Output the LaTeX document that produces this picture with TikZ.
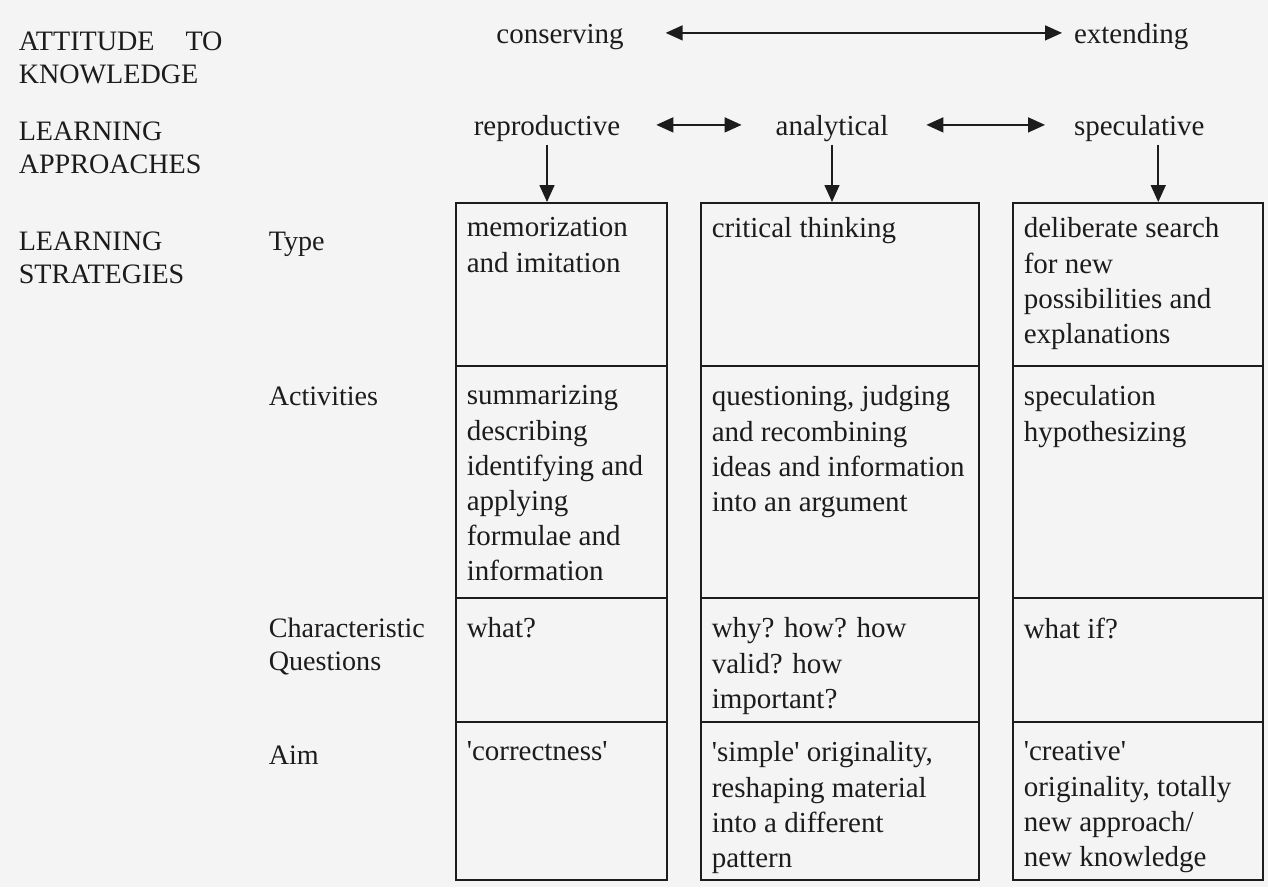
\documentclass[tikz,border=0pt]{standalone}
\usepackage{fontspec}
\setmainfont{Liberation Serif}
\usetikzlibrary{arrows.meta}
\definecolor{paper}{RGB}{244,244,244}
\definecolor{ink}{RGB}{28,28,28}

\begin{document}
\begin{tikzpicture}[x=0.02cm,y=-0.02cm,line width=0.9pt,draw=ink,text=ink]
\tikzstyle{cell}=[draw,rectangle,anchor=north west,inner sep=0pt]
\tikzstyle{celltext}=[anchor=north west,align=left,inner xsep=0.22cm,inner ysep=0.4cm,font=\fontsize{16.5}{20}\selectfont]
\tikzstyle{heading}=[anchor=north west,align=left,inner sep=0pt,font=\fontsize{16}{19}\selectfont]
\tikzstyle{approach}=[inner sep=3pt,text height=13.5pt,text depth=2pt,font=\fontsize{16.5}{20}\selectfont]
\tikzstyle{twoway}=[{Triangle[length=0.34cm,width=0.3cm]}-{Triangle[length=0.34cm,width=0.3cm]}]
\tikzstyle{downarrow}=[-{Triangle[length=0.34cm,width=0.3cm]}]
\useasboundingbox[fill=paper] (0,0) rectangle (1268,887);
\foreach \name/\point/\w/\h in {
	c11/{455,202}/4.22cm/3.26cm,
	c21/{455,365}/4.22cm/4.64cm,
	c31/{455,597}/4.22cm/2.48cm,
	c41/{455,721}/4.22cm/3.16cm,
	c12/{700,202}/5.56cm/3.26cm,
	c22/{700,365}/5.56cm/4.64cm,
	c32/{700,597}/5.56cm/2.48cm,
	c42/{700,721}/5.56cm/3.16cm,
	c13/{1012,202}/5cm/3.26cm,
	c23/{1012,365}/5cm/4.64cm,
	c33/{1012,597}/5cm/2.48cm,
	c43/{1012,721}/5cm/3.16cm}
	\node[cell,minimum width=\w,minimum height=\h] (\name) at (\point) {};
\node[heading] (attitude) at (18,31) {ATTITUDE\hspace{1.1em}TO\\KNOWLEDGE};
\node[heading] (approaches) at (18,121) {LEARNING\\APPROACHES};
\node[heading] (strategies) at (18,231) {LEARNING\\STRATEGIES};
\node[heading] (type) at (268,231) {Type};
\node[heading] (activities) at (268,386) {Activities};
\node[heading] (questions) at (268,617) {Characteristic\\Questions};
\node[heading] (aim) at (268,745) {Aim};
\node[approach,anchor=base] (conserving) at (560,43) {conserving};
\node[approach,anchor=base west] (extending) at (1068,43) {extending};
\node[approach,anchor=base] (reproductive) at (547,135) {reproductive};
\node[approach,anchor=base] (analytical) at (832,135) {analytical};
\node[approach,anchor=base west] (speculative) at (1068,135) {speculative};
\draw[twoway,shorten <=0.72cm,shorten >=0.12cm] (conserving.east) -- (extending.west);
\draw[twoway,shorten <=0.6cm,shorten >=0.56cm] (reproductive.east) -- (analytical.west);
\draw[twoway,shorten <=0.64cm,shorten >=0.46cm] (analytical.east) -- (speculative.west);
\draw[downarrow] (reproductive.south) -- (reproductive.south |- c11.north);
\draw[downarrow] (analytical.south) -- (analytical.south |- c12.north);
\draw[downarrow] ([xshift=0.38cm]speculative.south) -- ([xshift=0.38cm]speculative.south |- c13.north);
\node[celltext,inner ysep=0.3cm] (t11) at (c11.north west) {memorization\\and imitation};
\node[celltext] (t21) at (c21.north west) {summarizing\\describing\\identifying and\\applying\\formulae and\\information};
\node[celltext] (t31) at (c31.north west) {what?};
\node[celltext] (t41) at (c41.north west) {\textquotesingle correctness\textquotesingle};
\node[celltext,inner ysep=0.3cm] (t12) at (c12.north west) {critical thinking};
\node[celltext] (t22) at (c22.north west) {questioning, judging\\and recombining\\ideas and information\\into an argument};
\node[celltext] (t32) at (c32.north west) {why? how? how\\valid? how\\important?};
\node[celltext] (t42) at (c42.north west) {\textquotesingle simple\textquotesingle{} originality,\\reshaping material\\into a different\\pattern};
\node[celltext,inner ysep=0.3cm] (t13) at (c13.north west) {deliberate search\\for new\\possibilities and\\explanations};
\node[celltext] (t23) at (c23.north west) {speculation\\hypothesizing};
\node[celltext] (t33) at (c33.north west) {what if?};
\node[celltext] (t43) at (c43.north west) {\textquotesingle creative\textquotesingle\\originality, totally\\new approach/\\new knowledge};
\end{tikzpicture}
\end{document}
